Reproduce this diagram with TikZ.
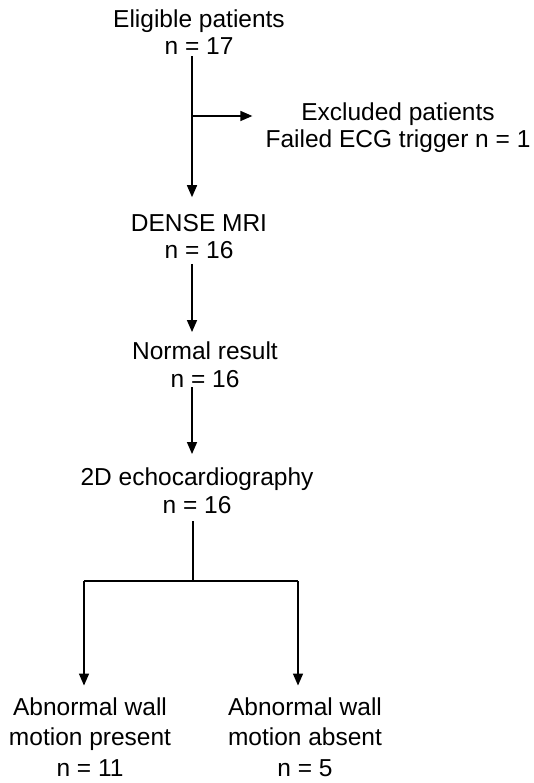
\documentclass[tikz,border=0pt]{standalone}
\usepackage{fontspec}
\setmainfont{Liberation Sans}
\usetikzlibrary{arrows.meta}
\begin{document}
\begin{tikzpicture}[x=1pt,y=-1pt,
  lbl/.style={align=center, inner sep=0pt, anchor=base, font=\fontsize{24.5}{27.5}\selectfont},
  lblb/.style={lbl, font=\fontsize{24.5}{30.5}\selectfont},
  conn/.style={line width=1.5pt},
  arr/.style={conn, -{Triangle[length=12pt,width=10pt]}}]
\useasboundingbox (0,0) rectangle (534,783);
\node[lbl] (elig) at (199,55) {Eligible patients\\n = 17};
\node[lbl] (excl) at (398,148) {Excluded patients\\Failed ECG trigger n = 1};
\node[lbl] (dense) at (199,258.5) {DENSE MRI\\n = 16};
\node[lbl] (normal) at (205,387) {Normal result\\n = 16};
\node[lbl] (echo) at (197,513) {2D echocardiography\\n = 16};
\node[lblb] (pres) at (90,776) {Abnormal wall\\motion present\\n = 11};
\node[lblb] (abs) at (305,776) {Abnormal wall\\motion absent\\n = 5};
\coordinate (sp) at (192,0);
\coordinate (br) at (192,116);
\coordinate (split) at (193,581);
\coordinate (L) at (84,581);
\coordinate (R) at (298,581);
% spine
\draw[arr, shorten <=1pt, shorten >=16.5pt] (elig.south -| sp) -- (dense.north -| sp);
\draw[arr, shorten >=13pt] (br) -- (br -| excl.west);
\draw[arr, shorten <=5pt, shorten >=9.5pt] (dense.south -| sp) -- (normal.north -| sp);
\draw[arr, shorten >=13.5pt] (normal.south -| sp) -- (echo.north -| sp);
\draw[conn, shorten <=8pt] (echo.south -| split) -- (split);
\draw[conn] (L) -- (R);
\draw[arr, shorten >=11.5pt] (L) -- (L |- pres.north);
\draw[arr, shorten >=11.5pt] (R) -- (R |- abs.north);
\end{tikzpicture}
\end{document}
